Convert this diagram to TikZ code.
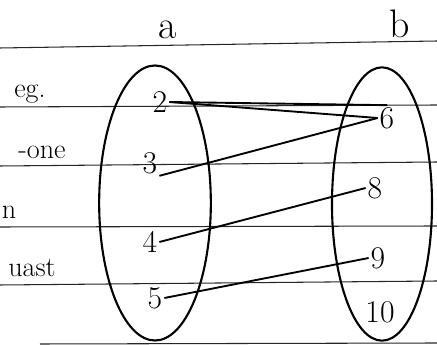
\documentclass[tikz,border=0pt]{standalone}
\usetikzlibrary{positioning, shapes.geometric}
\begin{document}
\begin{tikzpicture}[x=0.03cm, y=-0.03cm, line width=1.6pt,
  num/.style={font=\fontsize{27}{30}\selectfont, inner sep=1pt},
  note/.style={font=\fontsize{24}{26}\selectfont, inner sep=1pt},
  rule/.style={line width=0.9pt, black!85},
  setbox/.style={ellipse, draw, line width=1.8pt}]
  \useasboundingbox (0,0) rectangle (437,345);

  % ruled lines of the page
  \draw[rule] (0,48) -- (437,41);
  \draw[rule] (0,107) -- (437,105);
  \draw[rule] (0,166) -- (437,162);
  \draw[rule] (0,227) -- (437,226);
  \draw[rule] (0,285) -- (437,281);
  \draw[rule] (40,344) -- (437,343);

  % headings
  \node[num, font=\fontsize{34}{36}\selectfont] (hdA) at (168,30) {a};
  \node[num, font=\fontsize{34}{36}\selectfont] (hdB) at (400,24) {b};

  % the two sets
  \node[setbox, minimum width=3.35cm, minimum height=8.25cm] (setA) at (155,203) {};
  \node[setbox, minimum width=3.0cm, minimum height=8.2cm] (setB) at (382,204) {};

  % margin words
  \node[note] (wEg) at (30,94) {eg.};
  \node[note] (wOne) at (42,152) {-one};
  \node[note] (wN) at (9,212) {n};
  \node[note] (wLast) at (32,268) {uast};

  % elements of a
  \node[num] (a2) at (160,102) {2};
  \node[num] (a3) at (150,163) {3};
  \node[num] (a4) at (150,242) {4};
  \node[num] (a5) at (155,298) {5};

  % elements of b
  \node[num] (b6) at (387,118) {6};
  \node[num] (b8) at (375,188) {8};
  \node[num] (b9) at (378,258) {9};
  \node[num] (b10) at (380,312) {10};

  % mapping
  \draw (a2.east) -- (b6.north);
  \draw (a2.east) -- (b6.west);
  \draw (a3.south east) -- (b6.west);
  \draw (a4.east) -- (b8.west);
  \draw (a5.east) -- (b9.west);
\end{tikzpicture}
\end{document}
